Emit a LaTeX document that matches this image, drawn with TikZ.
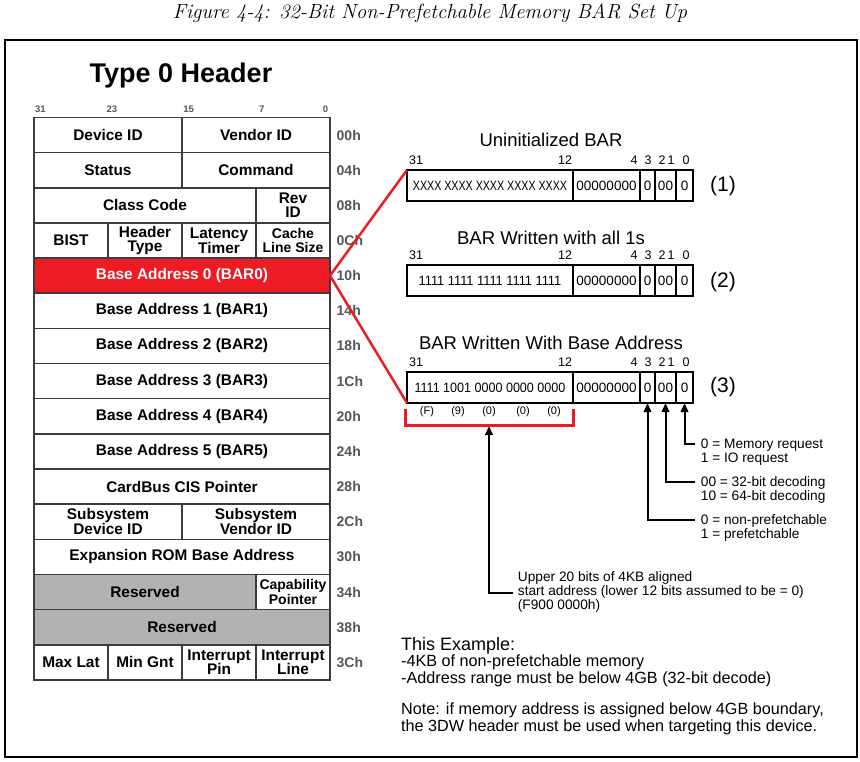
\documentclass[tikz,border=0pt]{standalone}
\usepackage{fontspec}
\setsansfont{Liberation Sans}
\usepackage{graphicx}
\usepackage{tikz}
\usetikzlibrary{positioning,arrows.meta}
\definecolor{barred}{RGB}{237,28,36}
\definecolor{resgray}{RGB}{178,178,178}
\definecolor{linegray}{RGB}{60,60,60}
\definecolor{offgray}{RGB}{85,85,85}

\tikzset{
  cell/.style={rectangle, draw=linegray, line width=1.5pt, anchor=north west,
    minimum height=35.15pt, inner sep=0pt, outer sep=0pt, align=center,
    font=\sffamily\bfseries\fontsize{15.4}{14.6}\selectfont},
  smallcell/.style={font=\sffamily\bfseries\fontsize{14}{14.6}\selectfont},
  offset/.style={inner sep=0pt, text=offgray, font=\sffamily\bfseries\fontsize{14}{16}\selectfont},
  topbit/.style={inner sep=0pt, text=offgray, font=\sffamily\bfseries\fontsize{9.5}{11}\selectfont},
  seg/.style={rectangle, draw=black, line width=2pt, minimum height=31pt,
    inner sep=0pt, outer sep=0pt, font=\sffamily\fontsize{13.5}{14}\selectfont},
  bitnum/.style={inner sep=0pt, font=\sffamily\fontsize{12.5}{14}\selectfont},
  bartitle/.style={inner sep=0pt, font=\sffamily\fontsize{18.5}{20}\selectfont},
  barno/.style={inner sep=0pt, font=\sffamily\fontsize{21}{24}\selectfont},
  hexdig/.style={inner sep=0pt, font=\sffamily\fontsize{11}{12}\selectfont},
  note/.style={inner sep=0pt, align=left, anchor=base west, font=\sffamily\fontsize{13.7}{14.2}\selectfont},
  arr/.style={line width=2pt, -{Triangle[length=9pt,width=7.5pt]}},
  redline/.style={draw=barred, line width=2.5pt},
  bracket/.style={draw=barred, line width=3pt}
}

\begin{document}
\begin{tikzpicture}[x=1pt, y=-1pt]
\useasboundingbox (0,0) rectangle (860,762);
% caption and frame
\node[inner sep=0pt, font=\itshape\fontsize{20.5}{24}\selectfont] (caption) at (430,13) {Figure 4-4: 32-Bit Non-Prefetchable Memory BAR Set Up};
\draw[line width=2pt] (5,40) rectangle (856.5,756.5);

% Type 0 header
\node[inner sep=0pt, anchor=base, font=\sffamily\bfseries\fontsize{27}{30}\selectfont] (hdrtitle) at (181,83) {Type 0 Header};
\node[topbit] (t31) at (40.5,109.3) {31};
\node[topbit] (t23) at (112,109.3) {23};
\node[topbit] (t15) at (188.7,109.3) {15};
\node[topbit] (t7) at (261.7,109.3) {7};
\node[topbit] (t0) at (325.5,109.3) {0};

\node[cell, minimum width=148pt] (devid) at (34,117.5) {Device ID};
\node[cell, minimum width=148pt] (venid) at (182,117.5) {Vendor ID};
\node[cell, minimum width=148pt] (status) at (34,152.65) {Status};
\node[cell, minimum width=148pt] (cmd) at (182,152.65) {Command};
\node[cell, minimum width=222pt] (class) at (34,187.8) {Class Code};
\node[cell, minimum width=74pt] (rev) at (256,187.8) {Rev\\ID};
\node[cell, minimum width=74pt] (bist) at (34,222.95) {BIST};
\node[cell, minimum width=74pt] (htype) at (108,222.95) {Header\\Type};
\node[cell, minimum width=74pt] (lat) at (182,222.95) {Latency\\Timer};
\node[cell, smallcell, minimum width=74pt] (cls) at (256,222.95) {Cache\\Line Size};
\node[cell, minimum width=296pt, fill=barred, text=white] (bar0) at (34,258.1) {Base Address 0 (BAR0)};
\node[cell, minimum width=296pt] (bar1) at (34,293.25) {Base Address 1 (BAR1)};
\node[cell, minimum width=296pt] (bar2) at (34,328.4) {Base Address 2 (BAR2)};
\node[cell, minimum width=296pt] (bar3) at (34,363.55) {Base Address 3 (BAR3)};
\node[cell, minimum width=296pt] (bar4) at (34,398.7) {Base Address 4 (BAR4)};
\node[cell, minimum width=296pt] (bar5) at (34,433.85) {Base Address 5 (BAR5)};
\node[cell, minimum width=296pt] (cis) at (34,469) {CardBus CIS Pointer};
\node[cell, minimum width=148pt] (ssdev) at (34,504.15) {Subsystem\\Device ID};
\node[cell, minimum width=148pt] (ssven) at (182,504.15) {Subsystem\\Vendor ID};
\node[cell, minimum width=296pt] (rom) at (34,539.3) {Expansion ROM Base Address};
\node[cell, minimum width=222pt, fill=resgray] (res1) at (34,574.45) {Reserved};
\node[cell, smallcell, minimum width=74pt] (cap) at (256,574.45) {Capability\\Pointer};
\node[cell, minimum width=296pt, fill=resgray] (res2) at (34,609.6) {Reserved};
\node[cell, minimum width=74pt] (maxlat) at (34,644.75) {Max Lat};
\node[cell, minimum width=74pt] (mingnt) at (108,644.75) {Min Gnt};
\node[cell, minimum width=74pt] (intpin) at (182,644.75) {Interrupt\\Pin};
\node[cell, minimum width=74pt] (intline) at (256,644.75) {Interrupt\\Line};

% offsets
\node[offset, anchor=west, right=6.5pt of venid] (o00) {00h};
\node[offset, anchor=west, right=6.5pt of cmd] (o04) {04h};
\node[offset, anchor=west, right=6.5pt of rev] (o08) {08h};
\node[offset, anchor=west, right=6.5pt of cls] (o0c) {0Ch};
\node[offset, anchor=west, right=6.5pt of bar0] (o10) {10h};
\node[offset, anchor=west, right=6.5pt of bar1] (o14) {14h};
\node[offset, anchor=west, right=6.5pt of bar2] (o18) {18h};
\node[offset, anchor=west, right=6.5pt of bar3] (o1c) {1Ch};
\node[offset, anchor=west, right=6.5pt of bar4] (o20) {20h};
\node[offset, anchor=west, right=6.5pt of bar5] (o24) {24h};
\node[offset, anchor=west, right=6.5pt of cis] (o28) {28h};
\node[offset, anchor=west, right=6.5pt of ssven] (o2c) {2Ch};
\node[offset, anchor=west, right=6.5pt of rom] (o30) {30h};
\node[offset, anchor=west, right=6.5pt of cap] (o34) {34h};
\node[offset, anchor=west, right=6.5pt of res2] (o38) {38h};
\node[offset, anchor=west, right=6.5pt of intline] (o3c) {3Ch};

% (1) uninitialized BAR
\node[bartitle] (ttl1) at (551,140) {Uninitialized BAR};
\node[bitnum] (u31) at (416,160) {31};
\node[bitnum] (u12) at (565,160) {12};
\node[bitnum] (u4) at (634,160) {4};
\node[bitnum] (u3) at (648,160) {3};
\node[bitnum] (u2) at (662,160) {2};
\node[bitnum] (u1) at (671,160) {1};
\node[bitnum] (u0) at (686,160) {0};
\node[seg, minimum width=166pt, anchor=north west] (b1a) at (407,170) {\scalebox{0.79}[1]{XXXX XXXX XXXX XXXX XXXX}};
\node[seg, minimum width=67pt, right=0pt of b1a] (b1b) {00000000};
\node[seg, minimum width=15pt, right=0pt of b1b] (b1c) {0};
\node[seg, minimum width=21pt, right=0pt of b1c] (b1d) {00};
\node[seg, minimum width=17pt, right=0pt of b1d] (b1e) {0};
\node[barno] (no1) at (723,186) {(1)};

% (2) written with all 1s
\node[bartitle] (ttl2) at (551,238) {BAR Written with all 1s};
\node[bitnum] (w31) at (416,255.5) {31};
\node[bitnum] (w12) at (565,255.5) {12};
\node[bitnum] (w4) at (634,255.5) {4};
\node[bitnum] (w3) at (648,255.5) {3};
\node[bitnum] (w2) at (662,255.5) {2};
\node[bitnum] (w1) at (671,255.5) {1};
\node[bitnum] (w0) at (686,255.5) {0};
\node[seg, minimum width=166pt, anchor=north west] (b2a) at (407,265) {\scalebox{0.95}[1]{1111 1111 1111 1111 1111}};
\node[seg, minimum width=67pt, right=0pt of b2a] (b2b) {00000000};
\node[seg, minimum width=15pt, right=0pt of b2b] (b2c) {0};
\node[seg, minimum width=21pt, right=0pt of b2c] (b2d) {00};
\node[seg, minimum width=17pt, right=0pt of b2d] (b2e) {0};
\node[barno] (no2) at (723,282) {(2)};

% (3) written with base address
\node[bartitle] (ttl3) at (551,343) {BAR Written With Base Address};
\node[bitnum] (a31) at (416,362) {31};
\node[bitnum] (a12) at (565,362) {12};
\node[bitnum] (a4) at (634,362) {4};
\node[bitnum] (a3) at (648,362) {3};
\node[bitnum] (a2) at (662,362) {2};
\node[bitnum] (a1) at (671,362) {1};
\node[bitnum] (a0) at (686,362) {0};
\node[seg, minimum width=166pt, anchor=north west] (b3a) at (407,372) {\scalebox{0.93}[1]{1111 1001 0000 0000 0000}};
\node[seg, minimum width=67pt, right=0pt of b3a] (b3b) {00000000};
\node[seg, minimum width=15pt, right=0pt of b3b] (b3c) {0};
\node[seg, minimum width=21pt, right=0pt of b3c] (b3d) {00};
\node[seg, minimum width=17pt, right=0pt of b3d] (b3e) {0};
\node[barno] (no3) at (723,387.5) {(3)};

\node[hexdig] (hxf) at (427,412) {(F)};
\node[hexdig] (hx9) at (458,412) {(9)};
\node[hexdig] (hx0a) at (489,412) {(0)};
\node[hexdig] (hx0b) at (523,412) {(0)};
\node[hexdig] (hx0c) at (554,412) {(0)};
\draw[bracket] ([shift={(-2,6)}]b3a.south west) -- ++(0,16) -| ([shift={(0,6)}]b3a.south east);

% red lines from BAR0
\draw[redline] (bar0.east) -- (b1a.north west);
\draw[redline] (bar0.east) -- (b3a.south west);

% bit field notes
\node[note] (memreq) at (700.7,462.2) {0 = Memory request\\1 = IO request};
\node[note] (decode) at (700.7,500.2) {00 = 32-bit decoding\\10 = 64-bit decoding};
\node[note] (prefetch) at (700.7,538.2) {0 = non-prefetchable\\1 = prefetchable};
\node[note] (upper) at (517.7,609.9) {Upper 20 bits of 4KB aligned\\start address (lower 12 bits assumed to be = 0)\\(F900 0000h)};
\coordinate (cmem) at (695,443.5);
\coordinate (cdec) at (695,481.5);
\coordinate (cpre) at (695,519.5);
\coordinate (cup) at (513,593);
\coordinate (brk) at (489,426);
\draw[arr] (cmem) -| (b3e.south);
\draw[arr] (cdec) -| (b3d.south);
\draw[arr] (cpre) -| (b3c.south);
\draw[arr] (cup) -| (brk);

% example text
\node[note, font=\sffamily\fontsize{18}{20}\selectfont] (extitle) at (401,650) {This Example:};
\node[note, font=\sffamily\fontsize{16.2}{16.7}\selectfont] (exlines) at (401,683) {-4KB of non-prefetchable memory\\-Address range must be below 4GB (32-bit decode)};
\node[note, font=\sffamily\fontsize{16.2}{17.7}\selectfont] (exnote) at (401,731.7) {Note: if memory address is assigned below 4GB boundary,\\the 3DW header must be used when targeting this device.};
\end{tikzpicture}
\end{document}
